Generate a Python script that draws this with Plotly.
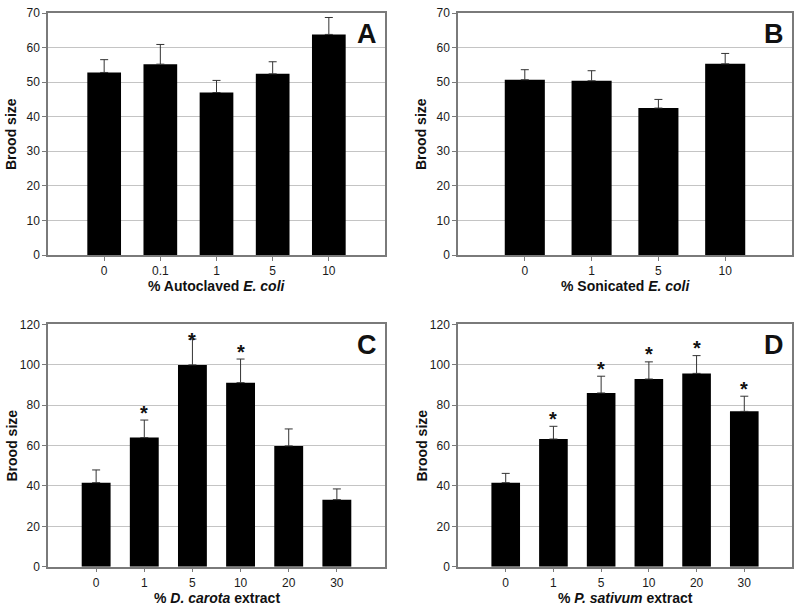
import plotly.graph_objects as go

# ---------------- data ----------------
cats_a = ["0", "0.1", "1", "5", "10"]
vals_a = [52.8, 55.2, 47.0, 52.4, 63.8]
errs_a = [3.7, 5.7, 3.5, 3.5, 4.9]

cats_b = ["0", "1", "5", "10"]
vals_b = [50.7, 50.4, 42.5, 55.3]
errs_b = [2.9, 2.9, 2.5, 3.0]

cats_c = ["0", "1", "5", "10", "20", "30"]
vals_c = [41.6, 63.9, 99.9, 91.1, 59.8, 33.2]
errs_c = [6.3, 8.7, 12.8, 11.7, 8.4, 5.3]
sig_c = [False, True, True, True, False, False]

cats_d = ["0", "1", "5", "10", "20", "30"]
vals_d = [41.6, 63.2, 86.0, 92.9, 95.7, 76.9]
errs_d = [4.6, 6.3, 8.3, 8.5, 8.8, 7.5]
sig_d = [False, True, True, True, True, True]

titles = ["% Autoclaved <i>E. coli</i>", "% Sonicated <i>E. coli</i>",
          "% <i>D. carota</i> extract", "% <i>P. sativum</i> extract"]
letters = ["A", "B", "C", "D"]

W, H = 800, 611
FONT = "Liberation Sans, Arial, sans-serif"

# panel pixel boxes (left, right, top, bottom)
boxes = [(48, 385, 13, 255), (458, 792, 13, 255),
         (48, 385, 324.3, 566.7), (458, 792, 324.3, 566.7)]
ymaxs = [70, 70, 120, 120]
dticks = [10, 10, 20, 20]


def px(xp):
    return xp / W


def py(yp):
    return 1 - yp / H


panels = [(cats_a, vals_a, errs_a, None), (cats_b, vals_b, errs_b, None),
          (cats_c, vals_c, errs_c, sig_c), (cats_d, vals_d, errs_d, sig_d)]

fig = go.Figure()
annotations = []
layout = {}
for i, ((cats, vals, errs, sig), box) in enumerate(zip(panels, boxes)):
    n = i + 1
    xa = "x" if n == 1 else f"x{n}"
    ya = "y" if n == 1 else f"y{n}"
    l, r, t, b = box
    fig.add_trace(go.Bar(
        x=cats, y=vals, xaxis=xa, yaxis=ya, width=0.6,
        marker=dict(color="black", line=dict(width=0)),
        error_y=dict(type="data", symmetric=False, array=errs,
                     arrayminus=[0] * len(errs), color="#333333",
                     thickness=1, width=4),
        showlegend=False, hoverinfo="skip"))
    axis_common = dict(showline=True, linecolor="#7a7a7a", linewidth=1.5,
                       mirror=True, ticks="outside", ticklen=4,
                       tickcolor="#7a7a7a", automargin=False,
                       ticklabeloverflow="allow",
                       tickfont=dict(family=FONT, size=12, color="#1a1a1a"))
    layout[("xaxis" if n == 1 else f"xaxis{n}")] = dict(
        domain=[px(l), px(r)], anchor=ya, type="category",
        range=[-1, len(cats)], showgrid=False, fixedrange=True,
        **axis_common)
    layout[("yaxis" if n == 1 else f"yaxis{n}")] = dict(
        domain=[py(b), py(t)], anchor=xa, range=[0, ymaxs[i]],
        dtick=dticks[i], showgrid=True, gridcolor="#c4c4c4", gridwidth=1,
        zeroline=False, fixedrange=True, **axis_common)
    # axis titles
    annotations.append(dict(text="<b>" + titles[i] + "</b>", xref="paper",
                            yref="paper", x=px((l + r) / 2),
                            y=py(b + 31), xanchor="center",
                            yanchor="middle", showarrow=False,
                            font=dict(family=FONT, size=14, color="#111")))
    annotations.append(dict(text="<b>Brood size</b>", xref="paper",
                            yref="paper", x=px(l - 37),
                            y=py((t + b) / 2), xanchor="center",
                            yanchor="middle", textangle=-90, showarrow=False,
                            font=dict(family=FONT, size=14, color="#111")))
    # panel letter
    annotations.append(dict(text="<b>" + letters[i] + "</b>", xref="paper",
                            yref="paper", x=px(r - 18), y=py(t + 21),
                            xanchor="center", yanchor="middle",
                            showarrow=False,
                            font=dict(family=FONT, size=27, color="#111")))
    # significance stars
    if sig:
        ppu = (b - t) / ymaxs[i]
        top_limit = ymaxs[i] - 10.7 / ppu
        for k, (v, e, s) in enumerate(zip(vals, errs, sig)):
            if not s:
                continue
            ys = min(v + e + 12.5 / ppu, top_limit)
            annotations.append(dict(text="<b>*</b>", xref=xa, yref=ya, x=k,
                                    y=ys, xanchor="center", yanchor="middle",
                                    yshift=-5, showarrow=False,
                                    font=dict(family=FONT, size=20,
                                              color="#111")))

fig.update_layout(width=W, height=H, margin=dict(l=0, r=0, t=0, b=0),
                  plot_bgcolor="white", paper_bgcolor="white",
                  bargap=0.4, annotations=annotations, **layout)
fig.write_html("out.html", config={"displayModeBar": False},
               post_script="document.body.style.margin='0';"
                           "document.body.style.overflow='hidden';")
